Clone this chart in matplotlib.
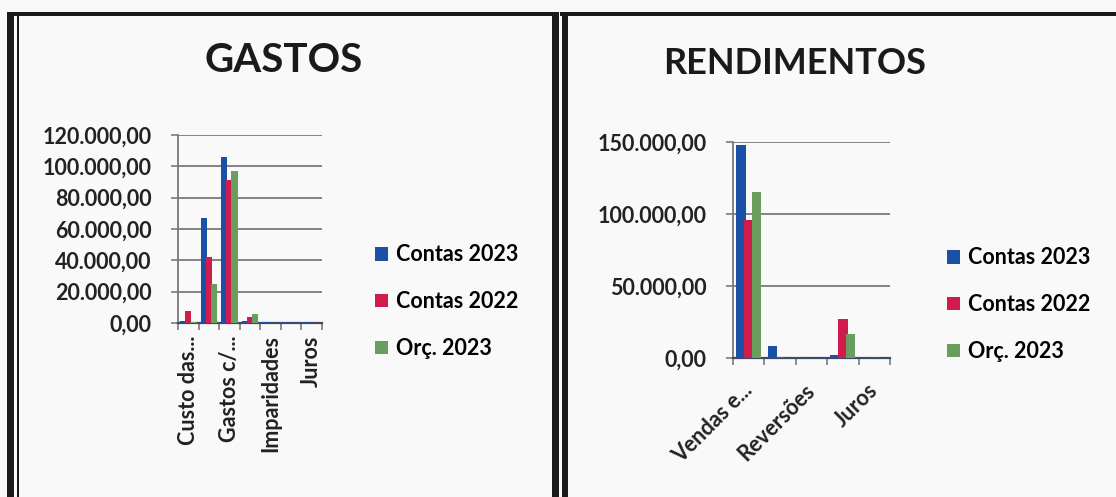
import matplotlib
matplotlib.use("Agg")
import matplotlib.pyplot as plt
from matplotlib.patches import Rectangle
import numpy as np

# GASTOS
gastos_cats = ["Custo das...", "Fornecimentos...", "Gastos c/...", "Gastos de...",
               "Imparidades", "Outros gastos", "Juros"]
gastos_c2023 = [1000, 67000, 106000, 1500, 600, 500, 500]
gastos_c2022 = [7500, 42000, 91000, 4000, 300, 300, 300]
gastos_o2023 = [500, 25000, 97000, 5500, 300, 300, 300]

# RENDIMENTOS
rend_cats = ["Vendas e...", "Subsídios...", "Reversões", "Outros...", "Juros"]
rend_c2023 = [148000, 8500, 400, 2000, 500]
rend_c2022 = [96000, 500, 300, 27000, 400]
rend_o2023 = [115000, 300, 300, 16500, 300]

series_names = ["Contas 2023", "Contas 2022", "Orç. 2023"]
colors = ["#1c4fa6", "#d01c4c", "#6a9e5f"]

W, H = 1116, 497
bg = "#f9f9f9"
plt.rcParams['font.family'] = ["Lato", "DejaVu Sans"]
plt.rcParams['font.weight'] = 'bold'
fs = 15.5


def fx(px):
    return px / W


def fy(py):
    return 1 - py / H


def fmt(v):
    s = "{:,.2f}".format(v)
    return s.replace(",", "X").replace(".", ",").replace("X", ".")


fig = plt.figure(figsize=(W / 100, H / 100), dpi=100, facecolor=bg)


def draw(ax, cats, vals, ymax, step, rot):
    x = np.arange(len(cats))
    w = 0.3
    off = 0.25
    bars = []
    for i, v in enumerate(vals):
        b = ax.bar(x + (i - 1) * off, v, w, color=colors[i], zorder=3)
        bars.append(b)
    ax.set_facecolor(bg)
    ax.set_xlim(-0.5, len(cats) - 0.5)
    ax.set_ylim(0, ymax)
    ticks = np.arange(0, ymax + 1, step)
    ax.set_yticks(ticks)
    ax.set_yticklabels([fmt(t) for t in ticks], fontsize=fs, fontweight='bold')
    ax.yaxis.grid(True, color="#7a7a7a", lw=1.3, zorder=0)
    for s in ["top", "right"]:
        ax.spines[s].set_visible(False)
    ax.spines["left"].set_color("#7a7a7a")
    ax.spines["left"].set_linewidth(1.3)
    ax.spines["bottom"].set_color("#3a4a6a")
    ax.spines["bottom"].set_linewidth(1.6)
    ax.tick_params(axis="y", length=5, width=1.2, color="#7a7a7a", pad=14, labelcolor="#222222")
    ax.set_xticks(x[::2])
    ax.set_xticks(np.arange(-0.5, len(cats)), minor=True)
    ax.tick_params(axis="x", which="major", length=0, labelcolor="#222222")
    ax.tick_params(axis="x", which="minor", length=5, width=1.2, color="#7a7a7a")
    if rot == 90:
        ax.set_xticklabels(cats[::2], rotation=90, fontsize=fs, fontweight='bold', va="top")
        ax.tick_params(axis="x", which="major", pad=9)
    else:
        ax.set_xticklabels(cats[::2], rotation=45, fontsize=fs, fontweight='bold',
                           ha="right", va="center", rotation_mode="anchor")
        ax.tick_params(axis="x", which="major", pad=21)
    return bars


ax1 = fig.add_axes([fx(178), fy(323), fx(322) - fx(178), fy(135) - fy(323)])
b1 = draw(ax1, gastos_cats, [gastos_c2023, gastos_c2022, gastos_o2023], 120000, 20000, 90)
ax2 = fig.add_axes([fx(733), fy(358), fx(890) - fx(733), fy(142) - fy(358)])
b2 = draw(ax2, rend_cats, [rend_c2023, rend_c2022, rend_o2023], 150000, 50000, 45)

fig.text(fx(284), fy(61), "GASTOS", fontsize=29, fontweight='bold', ha="center", va="center",
         color="#1a1a1a")
fig.text(fx(795), fy(63), "RENDIMENTOS", fontsize=26, fontweight='bold', ha="center", va="center",
         color="#1a1a1a")

for bars, lx, ly in [(b1, 356, 225), (b2, 928, 228)]:
    fig.legend(bars, series_names, loc="upper left", bbox_to_anchor=(fx(lx), fy(ly)),
               frameon=False, handlelength=0.6, handleheight=0.6,
               handletextpad=0.35, labelspacing=1.2, prop={'weight': 'bold', 'size': fs})

# scanned page borders
k = "#1a1a1a"
for (x0, y0, x1, y1) in [(7, 13, 14, 497), (17, 16, 19, 497), (7, 12, 553, 16),
                         (552, 12, 559, 497), (562, 12, 568, 497), (560, 12, 1116, 16)]:
    fig.add_artist(Rectangle((fx(x0), fy(y1)), fx(x1) - fx(x0), fy(y0) - fy(y1),
                             transform=fig.transFigure, color=k, lw=0))

fig.savefig("out.png", dpi=100, facecolor=bg)
